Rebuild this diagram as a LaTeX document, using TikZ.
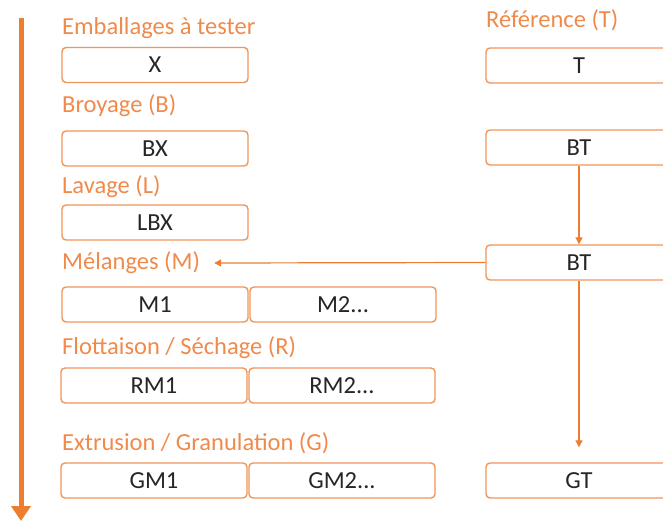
\documentclass[tikz,border=0pt]{standalone}
\usepackage{fontspec}
\setmainfont{Carlito}
\usetikzlibrary{arrows.meta}
\definecolor{orA}{HTML}{ED7D31}
\definecolor{orT}{HTML}{F08A4B}
\definecolor{orB}{HTML}{F0955A}
\definecolor{txt}{HTML}{262626}
\tikzset{
  box/.style={draw=orB, line width=1.4pt, rounded corners=4pt, minimum width=186pt, minimum height=35pt, inner sep=0pt, text=txt, font=\fontsize{24.5}{28}\selectfont},
  ttl/.style={anchor=west, inner sep=0pt, text=orT, font=\fontsize{24.5}{28}\selectfont},
  conn/.style={draw=orA, line width=1.2pt, -{Triangle[length=7pt,width=7pt]}},
}
\begin{document}
\begin{tikzpicture}[x=1pt,y=-1pt]
\useasboundingbox (0,0) rectangle (663,522);
\clip (0,0) rectangle (663,522);
% left time arrow
\coordinate (la) at (21,18);
\coordinate (lb) at (21,521);
\draw[orA, line width=5pt, -{Triangle[length=15pt,width=19pt]}] (la) -- (lb);
% titles
\node[ttl] (t1) at (62,28) {Emballages à tester};
\node[ttl] (t2) at (62,106) {Broyage (B)};
\node[ttl] (t3) at (62,187) {Lavage (L)};
\node[ttl] (t4) at (62,263) {Mélanges (M)};
\node[ttl] (t5) at (62,348) {Flottaison / Séchage (R)};
\node[ttl] (t6) at (62,443) {Extrusion / Granulation (G)};
\node[ttl] (t7) at (486,20) {Référence (T)};
% left boxes
\node[box] (x) at (155,65) {X};
\node[box] (bx) at (155,148.5) {BX};
\node[box] (lbx) at (155,222.5) {LBX};
\node[box] (m1) at (155,304.5) {M1};
\node[box] (m2) at (343,304.5) {M2...};
\node[box] (rm1) at (154,385.5) {RM1};
\node[box] (rm2) at (342,385.5) {RM2...};
\node[box] (gm1) at (154,480.5) {GM1};
\node[box] (gm2) at (342,480.5) {GM2...};
% right boxes
\node[box] (t) at (579,65.5) {T};
\node[box] (bt1) at (579,147.5) {BT};
\node[box] (bt2) at (579,262.5) {BT};
\node[box] (gt) at (579,480.5) {GT};
% connectors
\draw[conn] (bt1.south) -- (bt2.north);
\draw[conn] (bt2.west) -- ([xshift=14pt]t4.east);
\coordinate (gtin) at ([yshift=15pt]gt.north);
\draw[conn] (bt2.south) -- (gtin);
\end{tikzpicture}
\end{document}
